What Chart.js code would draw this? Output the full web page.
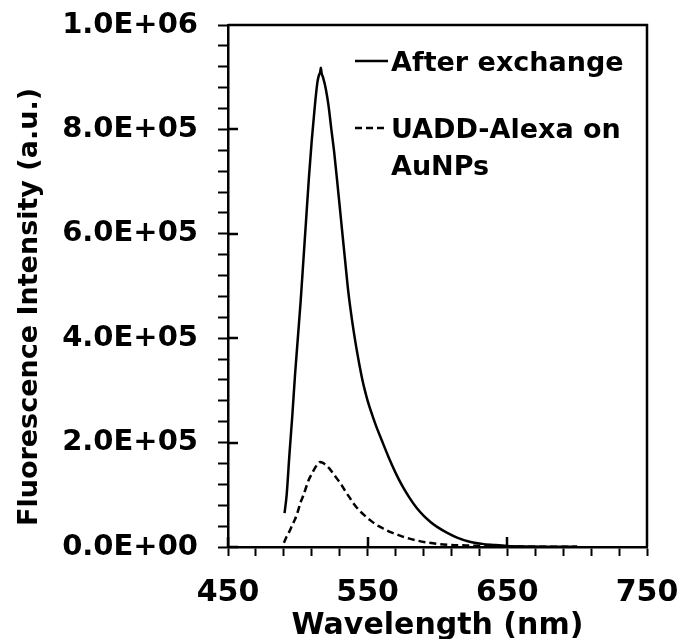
<!DOCTYPE html>
<html>
<head>
<meta charset="utf-8">
<script src="https://cdn.jsdelivr.net/npm/chart.js@4.4.1/dist/chart.umd.min.js"></script>
<style>
  html, body { margin: 0; padding: 0; background: #fff; }
</style>
</head>
<body>
<canvas id="spectrumChart" width="681" height="639"></canvas>
<script>
// Fluorescence spectra

// After exchange (solid line)
const exchangeNm = [490.5, 492, 494, 496, 498, 500, 502, 504, 506, 508, 510, 512, 514, 515, 516, 516.5, 517, 518,
    520, 522, 524, 526, 528, 530, 532, 534, 536, 538, 540, 542, 544, 546, 548, 550, 553, 556, 560, 565, 570, 575, 580,
    585, 590, 595, 600, 607, 614, 623, 632, 640, 650, 665, 680, 700];
const exchangeCounts = [65000, 100000, 178000, 250000, 330000, 400000, 470000, 550000, 630000, 710000, 780000, 840000, 890000, 903000, 910000, 918000, 908000, 900000,
    878000, 845000, 800000, 757000, 705000, 652000, 598000, 545000, 492000, 450000, 413000, 380000, 350000, 323000, 300000, 280000, 255000, 232000, 205000, 172000, 142000, 116000, 94000,
    75000, 60000, 48000, 38000, 27000, 18000, 10000, 6000, 4000, 2000, 1000, 500, 300];

// UADD-Alexa on AuNPs (dashed line)
const aunpNm = [490, 492, 494, 496, 498, 500, 502, 504, 506, 508, 510, 512, 514, 516, 518, 520, 522, 525, 528, 531,
    534, 537, 540, 544, 548, 552, 556, 560, 565, 570, 575, 580, 586, 592, 600, 610, 620, 635, 650, 700];
const aunpCounts = [8000, 20000, 30000, 42000, 53000, 68000, 86000, 99000, 115000, 130000, 140000, 150000, 158000, 163000, 161000, 157000, 152000, 142000, 131000, 120000,
    107000, 95000, 83000, 70000, 60000, 51000, 43000, 37000, 30000, 25000, 20000, 16000, 12000, 9000, 6000, 4000, 3000, 2000, 1000, 500];

const seriesNames = ['After exchange', 'UADD-Alexa on AuNPs'];
const legendLines = [['After exchange'], ['UADD-Alexa on', 'AuNPs']];

// axis ticks
const xMajor = [450, 550, 650, 750];
const yMajor = [0, 200000, 400000, 600000, 800000, 1000000];

const FONT = '"DejaVu Sans", Verdana, sans-serif';
Chart.defaults.font.family = FONT;
Chart.defaults.color = '#000';

const toPoints = (xs, ys) => xs.map((x, i) => ({ x: x, y: ys[i] }));

const sciLabel = (v) => {
    if (v === 0) return '0.0E+00';
    const exp = Math.floor(Math.log10(v) + 1e-9);
    const mant = v / Math.pow(10, exp);
    return mant.toFixed(1) + 'E+' + String(exp).padStart(2, '0');
};

// keep the plot box where the layout padding puts it
const noOverhang = (scale) => {
    scale.paddingTop = 0;
    scale.paddingBottom = 0;
    scale.paddingLeft = 0;
    scale.paddingRight = 0;
};

// top/right frame, inner halves of the major ticks, legend and y title
const framePlugin = {
    id: 'frame',
    afterDraw(chart) {
        const { ctx, chartArea: a, scales: { x, y } } = chart;
        ctx.save();
        ctx.strokeStyle = '#000';
        ctx.lineWidth = 2.5;
        ctx.beginPath();
        ctx.moveTo(a.left, a.top);
        ctx.lineTo(a.right, a.top);
        ctx.lineTo(a.right, a.bottom);
        xMajor.forEach(v => {
            const px = Math.round(x.getPixelForValue(v));
            ctx.moveTo(px, a.bottom);
            ctx.lineTo(px, a.bottom - 10);
        });
        yMajor.forEach(v => {
            const py = Math.round(y.getPixelForValue(v));
            ctx.moveTo(a.left, py);
            ctx.lineTo(a.left + 10, py);
        });
        ctx.stroke();

        // legend
        ctx.fillStyle = '#000';
        ctx.font = 'bold 27px ' + FONT;
        ctx.textBaseline = 'middle';
        ctx.textAlign = 'left';
        const rowY = [a.top + 36, a.top + 103];
        const lx = a.left + 127;
        chart.data.datasets.forEach((ds, i) => {
            ctx.beginPath();
            ctx.setLineDash(ds.borderDash || []);
            ctx.lineWidth = ds.borderWidth;
            ctx.moveTo(lx, rowY[i]);
            ctx.lineTo(lx + 33, rowY[i]);
            ctx.stroke();
            ctx.setLineDash([]);
            legendLines[i].forEach((t, j) => {
                ctx.fillText(t, lx + 36, rowY[i] + 3 + j * 37);
            });
        });

        // y axis title
        ctx.font = 'bold 27px ' + FONT;
        ctx.textAlign = 'center';
        ctx.textBaseline = 'alphabetic';
        ctx.translate(37, 307);
        ctx.rotate(-Math.PI / 2);
        ctx.fillText('Fluorescence Intensity (a.u.)', 0, 0);
        ctx.restore();
    }
};

const ctxSpec = document.getElementById('spectrumChart').getContext('2d');
const spectrumChart = new Chart(ctxSpec, {
    type: 'scatter',
    data: {
        datasets: [{
            label: seriesNames[0],
            data: toPoints(exchangeNm, exchangeCounts),
            showLine: true,
            borderColor: '#000',
            borderWidth: 2.5,
            pointRadius: 0,
            cubicInterpolationMode: 'monotone'
        }, {
            label: seriesNames[1],
            data: toPoints(aunpNm, aunpCounts),
            showLine: true,
            borderColor: '#000',
            borderWidth: 2.5,
            borderDash: [7, 4],
            pointRadius: 0,
            cubicInterpolationMode: 'monotone'
        }]
    },
    options: {
        responsive: false,
        animation: false,
        layout: { padding: { top: 25, right: 34, left: 0, bottom: 0 } },
        plugins: {
            legend: { display: false },
            tooltip: { enabled: false }
        },
        scales: {
            x: {
                type: 'linear',
                min: 450,
                max: 750,
                afterFit: (scale) => { scale.height = 92; noOverhang(scale); },
                grid: { drawOnChartArea: false, drawTicks: true, tickLength: 9, tickWidth: 2, tickColor: '#000' },
                border: { display: true, color: '#000', width: 2.5 },
                ticks: {
                    stepSize: 20,
                    maxTicksLimit: 100,
                    autoSkip: false,
                    maxRotation: 0,
                    padding: 19,
                    font: { size: 30, weight: 'bold' },
                    callback: (v) => xMajor.includes(Math.round(v)) ? String(Math.round(v)) : ''
                },
                title: {
                    display: true,
                    text: 'Wavelength (nm)',
                    font: { size: 30, weight: 'bold', lineHeight: 0.85 },
                    padding: { top: 0, bottom: 0 }
                }
            },
            y: {
                type: 'linear',
                min: 0,
                max: 1000000,
                afterFit: (scale) => { scale.width = 228; noOverhang(scale); },
                grid: { drawOnChartArea: false, drawTicks: true, tickLength: 10, tickWidth: 2, tickColor: '#000' },
                border: { display: true, color: '#000', width: 2.5 },
                ticks: {
                    stepSize: 40000,
                    maxTicksLimit: 100,
                    autoSkip: false,
                    padding: 20,
                    font: { size: 29, weight: 'bold' },
                    callback: (v) => yMajor.includes(Math.round(v)) ? sciLabel(Math.round(v)) : ''
                }
            }
        }
    },
    plugins: [framePlugin]
});
</script>
</body>
</html>
